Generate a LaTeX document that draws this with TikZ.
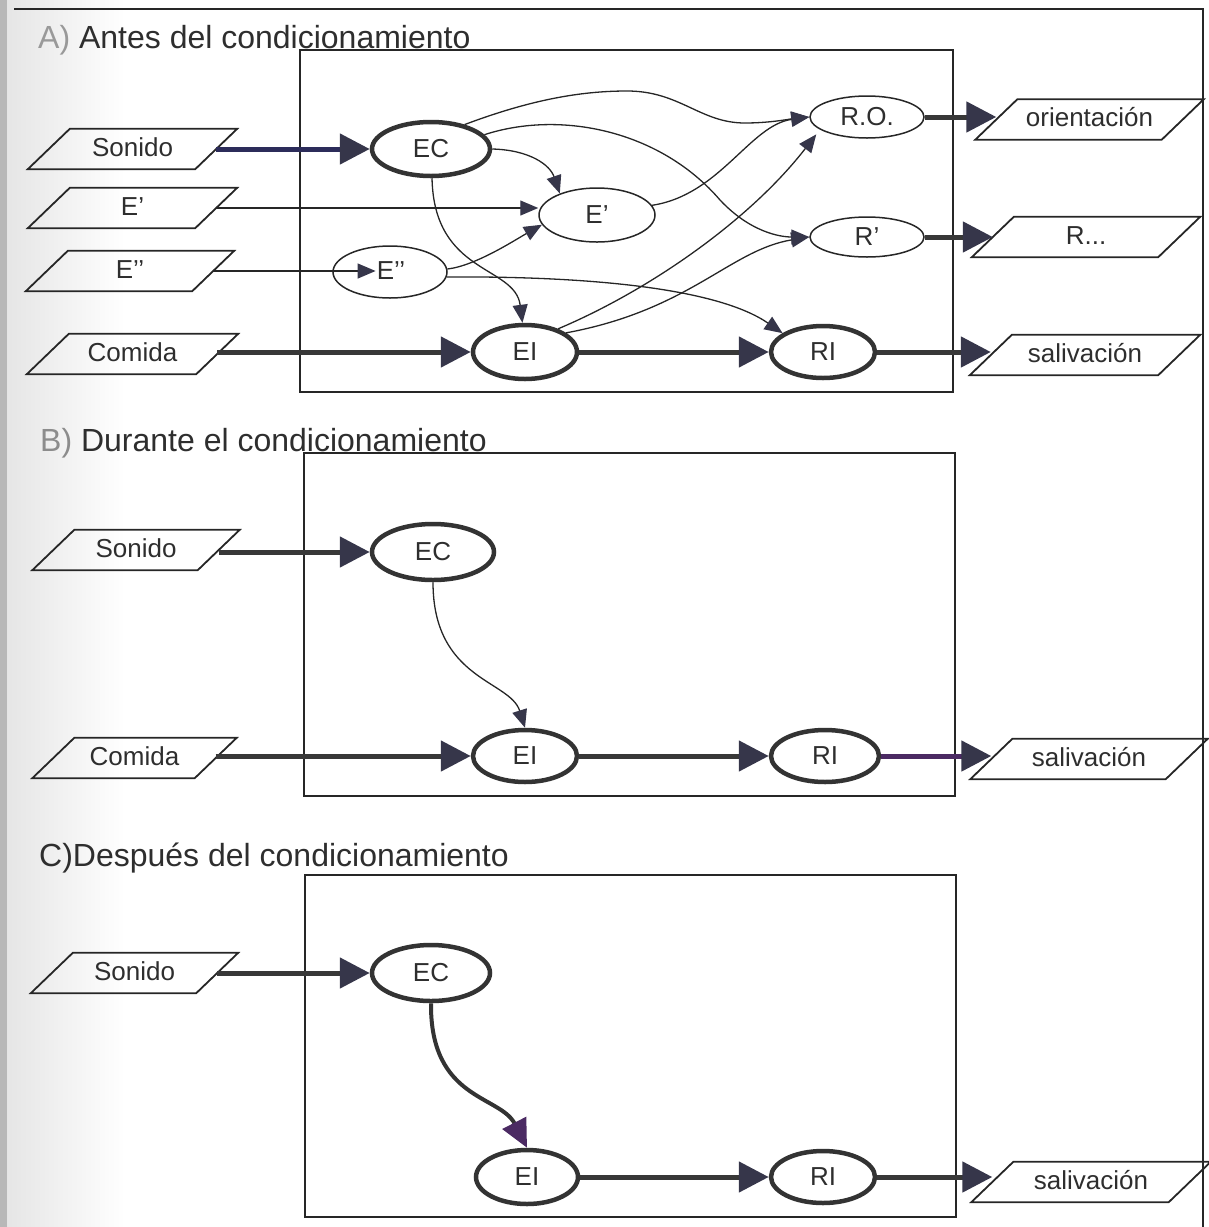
\documentclass[tikz,border=0pt]{standalone}
\usepackage{fontspec}
\setmainfont{Liberation Sans}
\usetikzlibrary{arrows.meta,shapes.geometric,calc}
\definecolor{ink}{HTML}{262626}
\definecolor{txt}{HTML}{2E2E2E}
\definecolor{headc}{HTML}{36364A}
\definecolor{navy}{HTML}{2C2C5A}
\definecolor{purp}{HTML}{4B2A63}
\tikzset{
 x=1pt,y=1pt,
 every node/.style={text=txt, font=\fontsize{26}{30}\selectfont},
 ell/.style={ellipse, draw=ink, line width=1.5pt, inner sep=0pt},
 ellthick/.style={ell, line width=4.5pt, draw=black!80},
 para/.style={rectangle, inner sep=0pt, minimum height=40pt, text height=19pt, text depth=5pt},
 parab/.style={draw=ink, line width=1.8pt, line join=miter},
 boxln/.style={draw=ink, line width=1.5pt},
 thinarr/.style={draw=ink, line width=1.3pt, -{Triangle[length=18pt,width=15pt,color=headc]}},
 thickarr/.style={draw=black!78, line width=5pt, -{Triangle[length=30pt,width=30pt,color=headc]}},
 ttl/.style={anchor=base west, font=\fontsize{32}{36}\selectfont, inner sep=0pt},
}
\newcommand\drawpara[1]{\draw[parab] ([xshift=21pt]#1.north west) -- ([xshift=21pt]#1.north east) -- ([xshift=-21pt]#1.south east) -- ([xshift=-21pt]#1.south west) -- cycle;}
\begin{document}
\begin{tikzpicture}
\useasboundingbox (0,0) rectangle (1209,-1227);
% scan shading at the left edge
\fill[black!28] (0,0) rectangle (7,-1227);
\shade[left color=black!10, right color=white] (7,0) rectangle (125,-1227);
% outer frame
\draw[boxln] (14,-9) -- (1203,-9) -- (1203,-1227);

% ---------------- Panel A ----------------
\node[ttl] (tA) at (38,-48) {\textcolor{black!40}{A)} Antes del condicionamiento};
\draw[boxln] (300,-50) rectangle (953,-392);

\node[para, minimum width=167pt] (ipS) at (132.5,-149) {Sonido};
\node[para, minimum width=167pt] (ip1) at (132.5,-208) {E’};
\node[para, minimum width=166pt] (ip2) at (130,-271) {E’’};
\node[para, minimum width=169pt] (ipC) at (132.5,-354) {Comida};
\drawpara{ipS}\drawpara{ip1}\drawpara{ip2}\drawpara{ipC}

\node[para, minimum width=186pt] (opO) at (1089.5,-119.5) {orientación};
\node[para, minimum width=186pt] (opR) at (1086,-237) {R...};
\node[para, minimum width=188pt] (opS) at (1085,-355) {salivación};
\drawpara{opO}\drawpara{opR}\drawpara{opS}

\node[ellthick, minimum width=118pt, minimum height=54pt] (ec) at (431,-149) {EC};
\node[ell, minimum width=116pt, minimum height=54pt] (e1) at (597,-215) {E’};
\node[ell, minimum width=114pt, minimum height=52pt] (e2) at (390,-272) {};
\node[inner sep=1pt] (e2lab) at (391,-271) {E’’};
\node[ellthick, minimum width=104pt, minimum height=54pt] (ei) at (525,-352) {EI};
\node[ellthick, minimum width=104pt, minimum height=52pt] (ri) at (823,-352) {RI};
\node[ell, minimum width=114pt, minimum height=42pt] (ro) at (867,-117) {R.O.};
\node[ell, minimum width=114pt, minimum height=40pt] (rp) at (867,-237) {R’};

\draw[thickarr, draw=navy] (ipS) -- (ec);
\draw[thinarr] (ip1.east) -- (ip1.east -| e1.west);
\draw[thinarr] (ip2) -- (e2lab);
\draw[thickarr] (ipC.east |- ei) -- (ei);
\draw[thickarr] (ei) -- (ri);
\draw[thickarr] (ri.east) -- (ri.east -| opS.west);
\draw[thickarr] (ro.east) -- (ro.east -| opO.west);
\draw[thickarr] (rp.east) -- (rp.east -| opR.west);

\draw[thinarr] (ec.36) .. controls (530,-100) and (580,-91) .. (627,-91)
   .. controls (680,-91) and (700,-123) .. (745,-123)
   .. controls (770,-123) and (790,-119) .. (ro.west);
\draw[thinarr] (ec.15) .. controls (560,-110) and (660,-130) .. (720,-200)
   .. controls (750,-232) and (780,-237) .. (rp.west);
\draw[thinarr] (ec.east) .. controls (530,-150) and (550,-165) .. (e1.150);
\draw[thinarr] (ec.-88) .. controls (434,-275) and (515,-265) .. (ei.95);
\draw[thinarr] (e2.3) .. controls (475,-266) and (515,-240) .. (e1.190);
\draw[thinarr] (e2.-5) .. controls (600,-276) and (720,-290) .. (ri.155);
\draw[thinarr] (e1.10) .. controls (720,-195) and (750,-125) .. (ro.west);
\draw[thinarr, shorten >=6pt] (ei.35) .. controls (650,-290) and (750,-220) .. (ro.195);
\draw[thinarr] (ei.25) .. controls (690,-310) and (730,-250) .. (rp.west);

% ---------------- Panel B ----------------
\node[ttl] (tB) at (40,-451) {\textcolor{black!45}{B)} Durante el condicionamiento};
\draw[boxln] (304,-453) rectangle (955,-796);

\node[para, minimum width=165pt] (ipSb) at (136,-550) {Sonido};
\node[para, minimum width=162pt] (ipCb) at (134.5,-758) {Comida};
\node[para, minimum width=195pt] (opSb) at (1089,-759) {salivación};
\drawpara{ipSb}\drawpara{ipCb}\drawpara{opSb}

\node[ellthick, minimum width=122pt, minimum height=56pt] (ecb) at (433,-552) {EC};
\node[ellthick, minimum width=104pt, minimum height=52pt] (eib) at (525,-756) {EI};
\node[ellthick, minimum width=108pt, minimum height=52pt] (rib) at (825,-756) {RI};

\draw[thickarr] (ipSb.east |- ecb) -- (ecb);
\draw[thickarr] (ipCb.east |- eib) -- (eib);
\draw[thickarr] (eib) -- (rib);
\draw[thickarr, draw=purp] (rib.east) -- (rib.east -| opSb.west);
\draw[thinarr] (ecb.south) .. controls (433,-680) and (510,-680) .. (eib.north);

% ---------------- Panel C ----------------
\node[ttl] (tC) at (39,-866) {C)Después del condicionamiento};
\draw[boxln] (305,-875) rectangle (956,-1217);

\node[para, minimum width=165pt] (ipSc) at (134.5,-973) {Sonido};
\node[para, minimum width=197pt] (opSc) at (1091,-1182) {salivación};
\drawpara{ipSc}\drawpara{opSc}

\node[ellthick, minimum width=118pt, minimum height=56pt] (ecc) at (431,-973) {EC};
\node[ellthick, minimum width=102pt, minimum height=54pt] (eic) at (527,-1177) {EI};
\node[ellthick, minimum width=104pt, minimum height=52pt] (ric) at (823,-1177) {RI};

\draw[thickarr] (ipSc) -- (ecc);
\draw[thickarr] (eic) -- (ric);
\draw[thickarr] (ric.east) -- (ric.east -| opSc.west);
\draw[draw=black!80, line width=4pt, -{Triangle[length=28pt,width=26pt,color=purp]}]
   (ecc.south) .. controls (430,-1100) and (500,-1095) .. (eic.north);
\end{tikzpicture}
\end{document}
